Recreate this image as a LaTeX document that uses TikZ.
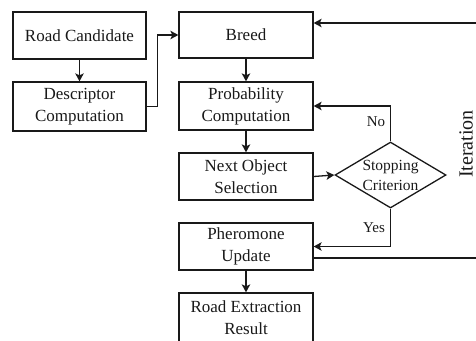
\documentclass[tikz,border=0pt]{standalone}
\usepackage{fontspec}
\setmainfont{Liberation Serif}
\usetikzlibrary{arrows.meta,shapes.geometric}
\definecolor{ink}{RGB}{25,25,25}
\tikzset{
  box/.style={draw=ink, line width=1.3pt, rectangle, inner sep=0pt, align=center,
    font=\fontsize{17}{22}\selectfont, text=ink},
  conn/.style={draw=ink, line width=1.3pt, -{Stealth[length=8pt,width=8.5pt,inset=2pt]}},
  lbl/.style={font=\fontsize{15}{18}\selectfont, text=ink, inner sep=0pt}
}
\begin{document}
\begin{tikzpicture}[x=1pt,y=-1pt]
\clip (0,0) rectangle (476,340);
\node[box, minimum width=133pt, minimum height=47pt] (rc) at (79.5,35.5) {Road Candidate};
\node[box, minimum width=133pt, minimum height=49pt] (dc) at (79.5,106.5) {Descriptor\\Computation};
\node[box, minimum width=134pt, minimum height=46pt] (br) at (246,35) {Breed};
\node[box, minimum width=134pt, minimum height=48pt] (pc) at (246,106) {Probability\\Computation};
\node[box, minimum width=134pt, minimum height=47pt] (nos) at (246,176.5) {Next Object\\Selection};
\node[box, minimum width=134pt, minimum height=47pt] (pu) at (246,246.5) {Pheromone\\Update};
\node[box, minimum width=134pt, minimum height=50pt] (rer) at (246,318) {Road Extraction\\Result};
\node[draw=ink, line width=1.3pt, diamond, minimum width=111pt, minimum height=66pt, inner sep=0pt] (sc) at (390.5,175) {};
\node[lbl, align=center, font=\fontsize{15.5}{20}\selectfont] (sct) at (sc.center) {Stopping\\Criterion};
\node[lbl] (no) at (376,122) {No};
\node[lbl] (yes) at (374,228) {Yes};
\node[lbl, rotate=90, font=\fontsize{20}{22}\selectfont] (it) at (466,144) {Iteration};
\coordinate (loopTop) at (490,23);
\coordinate (loopBot) at (490,258);

\draw[conn] (rc.south) -- (dc.north);
\draw[conn] (dc.east) -- ++(11,0) |- (br.west);
\draw[conn] (br.south) -- (pc.north);
\draw[conn] (pc.south) -- (nos.north);
\draw[conn] (nos.east) -- (sc.west);
\draw[conn] (sc.north) |- (pc.east);
\draw[conn] (sc.south) |- (pu.east);
\draw[conn] (pu.south) -- (rer.north);
\draw[conn] (pu.east |- loopBot) -- (loopBot) -- (loopTop) -- (loopTop -| br.east);
\end{tikzpicture}
\end{document}
